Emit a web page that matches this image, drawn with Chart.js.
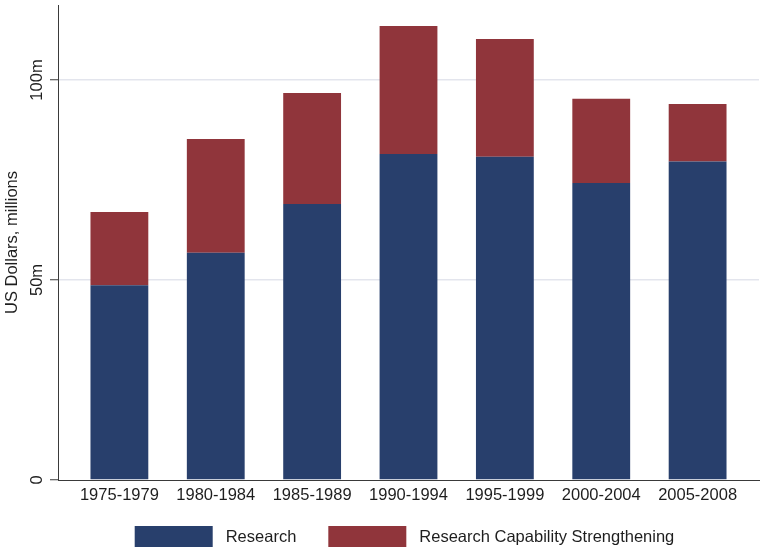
<!DOCTYPE html>
<html>
<head>
<meta charset="utf-8">
<script src="https://cdn.jsdelivr.net/npm/chart.js@4.4.1/dist/chart.umd.min.js"></script>
<style>
html,body{margin:0;padding:0;background:#fff;}
#wrap{width:765px;height:553px;}
</style>
</head>
<body>
<div id="wrap"><canvas id="chart"></canvas></div>
<script>
// periods on the x axis
const periods = ["1975-1979","1980-1984","1985-1989","1990-1994","1995-1999","2000-2004","2005-2008"];
// US$ millions
const research = [48.7, 56.8, 69.0, 81.5, 80.8, 74.25, 79.6];
const capability = [18.3, 28.45, 27.75, 32.0, 29.45, 21.05, 14.4];
const yTicks = [0, 50, 100];
const yTickLabels = ["0", "50m", "100m"];

const COLORS = {navy:"#283f6c", maroon:"#90353b", axis:"#3a3a3a", grid:"#e3e5ed", text:"#1e1e1e"};
const FONT = "'Liberation Sans', Arial, sans-serif";
const FS = 16.5;

Chart.defaults.font.family = FONT;
Chart.defaults.font.size = FS;
Chart.defaults.color = COLORS.text;

// y tick labels rotated like the original
const rotatedYTicks = {
  id:"rotatedYTicks",
  afterDraw(chart){
    const y = chart.scales.y, ctx = chart.ctx;
    ctx.save();
    ctx.font = FS + "px " + FONT;
    ctx.fillStyle = COLORS.text;
    ctx.textAlign = "center";
    ctx.textBaseline = "alphabetic";
    yTicks.forEach((v,i)=>{
      ctx.save();
      ctx.translate(42, y.getPixelForValue(v));
      ctx.rotate(-Math.PI/2);
      ctx.fillText(yTickLabels[i], 0, 0);
      ctx.restore();
    });
    ctx.restore();
  }
};

// legend drawn below the axis with Stata-like spacing
const bottomLegend = {
  id:"bottomLegend",
  afterDraw(chart){
    const ctx = chart.ctx;
    const sets = chart.data.datasets;
    const boxW = 78, boxH = 21, gap = 13, between = 32, top = 526;
    ctx.save();
    ctx.font = FS + "px " + FONT;
    const widths = sets.map(d=>ctx.measureText(d.label).width);
    let total = 0;
    widths.forEach((w,i)=>{ total += boxW + gap + w + (i < sets.length-1 ? between : 0); });
    let x = 404.5 - total/2;
    ctx.textBaseline = "middle";
    ctx.textAlign = "left";
    sets.forEach((d,i)=>{
      ctx.fillStyle = d.backgroundColor;
      ctx.fillRect(x, top, boxW, boxH);
      ctx.fillStyle = COLORS.text;
      ctx.fillText(d.label, x + boxW + gap, top + boxH/2 + 1);
      x += boxW + gap + widths[i] + between;
    });
    ctx.restore();
  }
};

new Chart(document.getElementById("chart"),{
  type:"bar",
  data:{
    datasets:[
      {label:"Research", data:research.map((v,i)=>({x:i,y:v})), backgroundColor:COLORS.navy},
      {label:"Research Capability Strengthening", data:capability.map((v,i)=>({x:i,y:v})), backgroundColor:COLORS.maroon}
    ]
  },
  options:{
    responsive:true,
    maintainAspectRatio:false,
    animation:false,
    layout:{padding:{top:5,right:6,bottom:0,left:0}},
    plugins:{legend:{display:false}, tooltip:{enabled:false}},
    datasets:{bar:{barPercentage:0.6, categoryPercentage:1, borderWidth:0}},
    scales:{
      x:{
        type:"linear",
        stacked:true,
        offset:false,
        min:-0.637,
        max:6.637,
        afterBuildTicks:s=>{ s.ticks = periods.map((_,i)=>({value:i})); },
        afterFit:s=>{ s.height = 73; },
        grid:{display:false, drawTicks:false, offset:false},
        border:{display:true, color:COLORS.axis, width:1},
        ticks:{autoSkip:false, maxRotation:0, minRotation:0, padding:6,
          callback:v=>periods[v] ?? "", color:COLORS.text, font:{size:FS}}
      },
      y:{
        stacked:true,
        min:0,
        max:118.75,
        afterBuildTicks:s=>{ s.ticks = yTicks.map(v=>({value:v})); },
        afterFit:s=>{ s.width = 58; },
        grid:{color:c=>c.tick && c.tick.value === 0 ? "rgba(0,0,0,0)" : COLORS.grid, lineWidth:1.5,
          drawTicks:true, tickLength:8, tickColor:COLORS.axis, tickWidth:1},
        border:{display:true, color:COLORS.axis, width:1},
        ticks:{display:false},
        title:{display:true, text:"US Dollars, millions", font:{size:FS}, color:COLORS.text, padding:{top:3,bottom:4}}
      }
    }
  },
  plugins:[rotatedYTicks, bottomLegend]
});
</script>
</body>
</html>
